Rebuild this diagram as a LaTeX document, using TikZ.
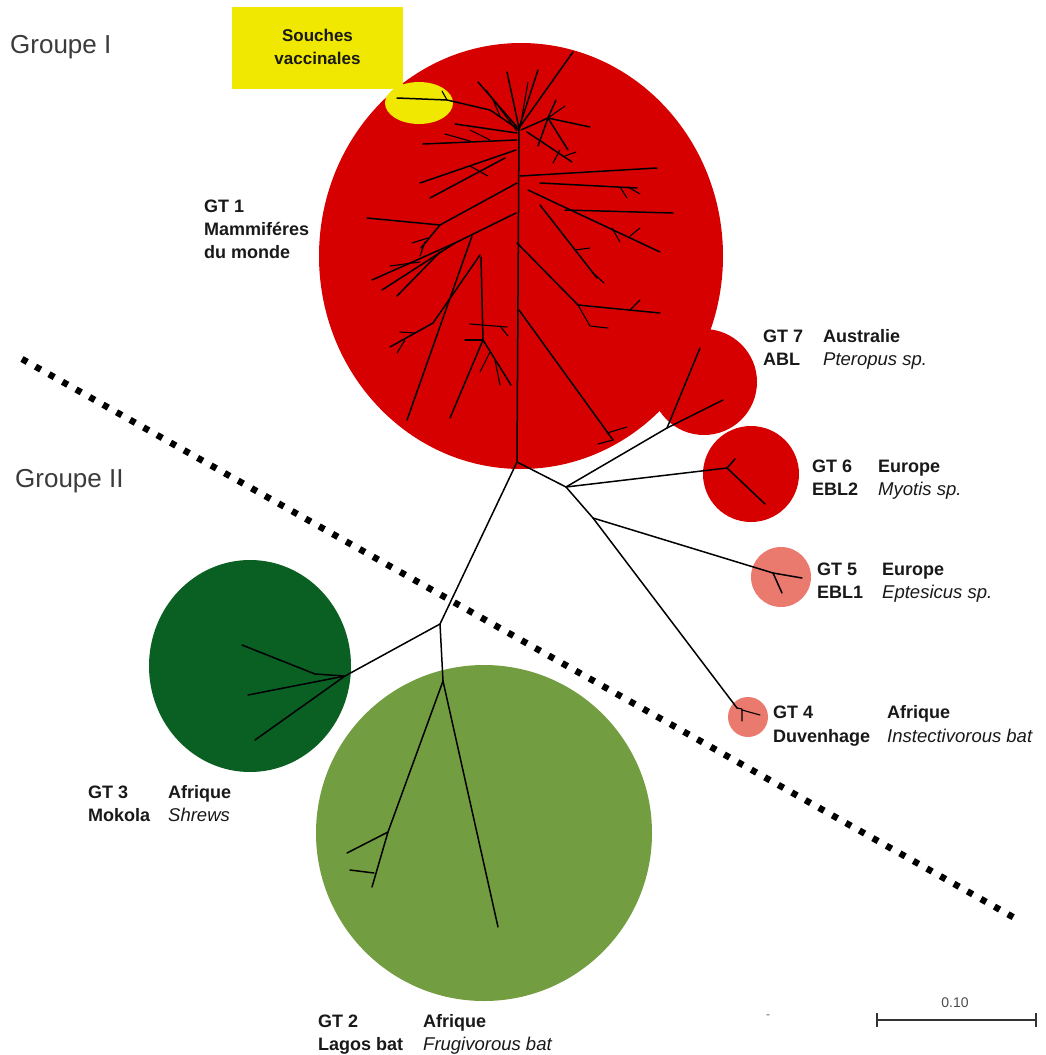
\documentclass[tikz,border=0pt]{standalone}
\usepackage{fontspec}
\setmainfont{Liberation Sans}
\definecolor{gtred}{RGB}{214,0,0}
\definecolor{vyellow}{RGB}{240,232,0}
\definecolor{dkgreen}{RGB}{10,95,35}
\definecolor{ltgreen}{RGB}{114,157,64}
\definecolor{salmon}{RGB}{234,122,110}
\definecolor{txt}{RGB}{25,25,25}
\begin{document}
\begin{tikzpicture}[x=1pt,y=-1pt,
  br/.style={line width=1.5pt,line cap=round,line join=round,black},
  fb/.style={line width=1.1pt,line cap=round,line join=round,black},
  lab/.style={anchor=base west,inner sep=0pt,text=txt,font=\fontsize{18}{20}\selectfont\bfseries},
  spec/.style={anchor=base west,inner sep=0pt,text=txt,font=\fontsize{18.5}{20}\selectfont\itshape},
  grp/.style={anchor=base west,inner sep=0pt,text=txt!85,font=\fontsize{26}{28}\selectfont}]
\useasboundingbox (0,0) rectangle (1045,1055);
\fill[white] (0,0) rectangle (1045,1055);
% clusters
\fill[gtred] (521,256) ellipse [x radius=202, y radius=213];
\fill[gtred] (704,382) circle [radius=53];
\fill[gtred] (751,474) circle [radius=48];
\fill[salmon] (781,577) circle [radius=30];
\fill[salmon] (748,717) circle [radius=20];
\fill[dkgreen] (250,666) ellipse [x radius=101, y radius=106];
\fill[ltgreen] (484,833) circle [radius=168];
\fill[vyellow] (419,103) ellipse [x radius=34, y radius=21];
\node[fill=vyellow,minimum width=171pt,minimum height=82pt,inner sep=0pt] (souches) at (317.5,48) {};
\node[align=center,text=txt,font=\fontsize{17}{23}\selectfont\bfseries,inner sep=0pt] (souchestxt) at (317.5,47) {Souches\\vaccinales};
% main coordinates
\coordinate (T0) at (519,128);
\coordinate (R) at (517,462);
\coordinate (J2) at (566,487);
\coordinate (J3) at (593,518);
\coordinate (JG) at (440,624);
\coordinate (G7) at (667,428);
\coordinate (G6) at (727,468);
\coordinate (G5) at (773,573);
\coordinate (G4) at (737,708);
\coordinate (G3) at (345,676);
\coordinate (G2) at (443,681);
% backbone
\draw[br] (T0) -- (R) -- (J2) -- (G7);
\draw[br] (J2) -- (G6);
\draw[br] (J2) -- (J3) -- (G5);
\draw[br] (J3) -- (G4);
\draw[br] (R) -- (JG) -- (G3);
\draw[br] (JG) -- (G2);
% GT7
\draw[br] (G7) -- (700,348);
\draw[br] (G7) -- (723,400);
% GT6
\draw[br] (G6) -- (735,459);
\draw[br] (G6) -- (765,504);
% GT5
\draw[br] (G5) -- (802,578);
\draw[br] (G5) -- (782,593);
% GT4
\draw[fb] (G4) -- (742,709) -- (742,721);
\draw[fb] (742,710) -- (760,715);
% GT3
\draw[br] (G3) -- (315,674) -- (242,645);
\draw[br] (G3) -- (248,695);
\draw[br] (G3) -- (255,740);
% GT2
\draw[br] (G2) -- (388,832) -- (372,887);
\draw[br] (388,832) -- (347,853);
\draw[br] (374,873) -- (350,870);
\draw[br] (G2) -- (498,927);
% GT1 subtree
\draw[br] (T0) -- (573,52);
\draw[br] (T0) -- (507,72);
\draw[br] (T0) -- (538,70);
\draw[br] (517,127) -- (478,82);
\draw[br] (518,129) -- (490,110) -- (447,100) -- (397,98);
\draw[fb] (447,100) -- (442,91);
\draw[fb] (500,116) -- (493,100);
\draw[br] (517,133) -- (455,124);
\draw[fb] (517,131) -- (486,90);
\draw[fb] (520,128) -- (528,82);
\draw[br] (521,130) -- (548,118) -- (590,127);
\draw[br] (548,118) -- (568,150);
\draw[br] (548,118) -- (538,146);
\draw[br] (548,118) -- (556,100);
\draw[fb] (548,118) -- (565,106);
\draw[br] (527,132) -- (572,162);
\draw[fb] (560,150) -- (553,163);
\draw[fb] (565,156) -- (576,152);
\draw[br] (517,140) -- (423,144);
\draw[fb] (470,141) -- (445,134);
\draw[fb] (490,140) -- (470,130);
\draw[br] (516,150) -- (420,183);
\draw[br] (505,158) -- (430,198);
\draw[fb] (470,166) -- (488,176);
\draw[br] (517,183) -- (440,225) -- (421,248);
\draw[br] (440,225) -- (367,218);
\draw[fb] (428,238) -- (412,243);
\draw[fb] (425,242) -- (420,256);
\draw[br] (520,176) -- (657,168);
\draw[br] (540,183) -- (637,188);
\draw[fb] (620,187) -- (627,198);
\draw[fb] (628,187) -- (640,194);
\draw[br] (528,190) -- (660,252);
\draw[br] (565,210) -- (673,213);
\draw[fb] (612,228) -- (620,242);
\draw[fb] (630,236) -- (640,228);
\draw[br] (540,205) -- (597,278);
\draw[fb] (592,272) -- (604,283);
\draw[fb] (575,250) -- (590,248);
\draw[br] (516,213) -- (455,243) -- (372,280);
\draw[br] (455,243) -- (382,290);
\draw[br] (440,252) -- (397,296);
\draw[fb] (420,262) -- (390,266);
\draw[br] (472,236) -- (407,420);
\draw[br] (480,255) -- (433,323) -- (390,347);
\draw[fb] (405,340) -- (397,353);
\draw[fb] (415,333) -- (400,332);
\draw[br] (481,257) -- (483,340);
\draw[fb] (470,324) -- (507,327);
\draw[fb] (500,326) -- (508,336);
\draw[br] (483,340) -- (450,418);
\draw[br] (483,340) -- (511,385);
\draw[fb] (483,340) -- (465,340);
\draw[fb] (490,352) -- (480,372);
\draw[fb] (495,360) -- (500,385);
\draw[br] (517,243) -- (578,305) -- (660,313);
\draw[fb] (578,305) -- (590,326) -- (608,328);
\draw[fb] (630,310) -- (640,300);
\draw[br] (519,310) -- (613,440);
\draw[fb] (607,433) -- (627,427);
\draw[fb] (613,440) -- (598,444);
% group separator
\coordinate (d1) at (22,359);
\coordinate (d2) at (1020,921);
\draw[line width=6.5pt,dash pattern=on 6pt off 9.5pt,black] (d1) -- (d2);
% labels
\node[grp] (g1) at (10,53) {Groupe I};
\node[grp] (g2) at (15,487) {Groupe II};
\node[lab] (gt1a) at (204,212) {GT 1};
\node[lab] (gt1b) at (204,235) {Mammiféres};
\node[lab] (gt1c) at (204,258) {du monde};
\node[lab] (gt7a) at (763,342) {GT 7};
\node[lab] (gt7b) at (823,342) {Australie};
\node[lab] (gt7c) at (763,365) {ABL};
\node[spec] (gt7d) at (823,365) {Pteropus sp.};
\node[lab] (gt6a) at (812,472) {GT 6};
\node[lab] (gt6b) at (878,472) {Europe};
\node[lab] (gt6c) at (812,495) {EBL2};
\node[spec] (gt6d) at (878,495) {Myotis sp.};
\node[lab] (gt5a) at (817,575) {GT 5};
\node[lab] (gt5b) at (882,575) {Europe};
\node[lab] (gt5c) at (817,598) {EBL1};
\node[spec] (gt5d) at (882,598) {Eptesicus sp.};
\node[lab] (gt4a) at (773,718) {GT 4};
\node[lab] (gt4b) at (887,718) {Afrique};
\node[lab] (gt4c) at (773,742) {Duvenhage};
\node[spec] (gt4d) at (887,742) {Instectivorous bat};
\node[lab] (gt3a) at (88,798) {GT 3};
\node[lab] (gt3b) at (168,798) {Afrique};
\node[lab] (gt3c) at (88,821) {Mokola};
\node[spec] (gt3d) at (168,821) {Shrews};
\node[lab] (gt2a) at (318,1027) {GT 2};
\node[lab] (gt2b) at (423,1027) {Afrique};
\node[lab] (gt2c) at (318,1050) {Lagos bat};
\node[spec] (gt2d) at (423,1050) {Frugivorous bat};
% scale bar
\coordinate (s1) at (877,1020);
\coordinate (s2) at (1036,1020);
\draw[line width=2.2pt,black!80] (s1) -- (s2);
\draw[line width=2pt,black!80] ([yshift=-7pt]s1) -- ([yshift=7pt]s1);
\draw[line width=2pt,black!80] ([yshift=-7pt]s2) -- ([yshift=7pt]s2);
\node[anchor=base,inner sep=0pt,text=black!70,font=\fontsize{14}{16}\selectfont] (scale) at (955,1007) {0.10};
\node[inner sep=0pt,text=black!60,font=\fontsize{12}{14}\selectfont] (speck) at (768,1017) {-};
\end{tikzpicture}
\end{document}
